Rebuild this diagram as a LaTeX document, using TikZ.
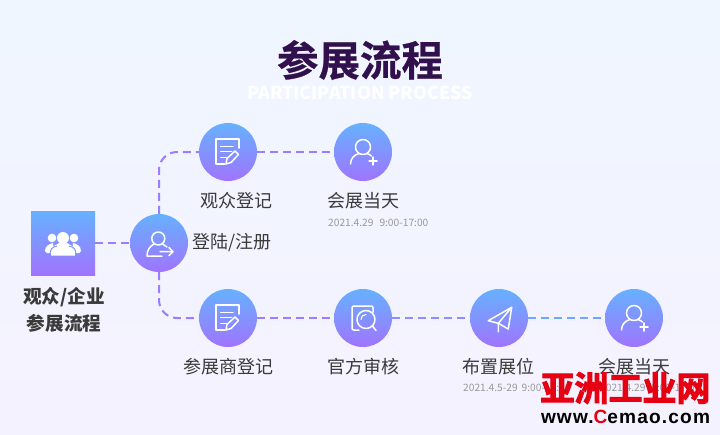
\documentclass[tikz,border=0pt]{standalone}
\usepackage{fontspec}
\usepackage{graphicx}
\setmainfont{Noto Sans CJK SC}
\newfontfamily\wmfont[FakeBold=3]{Noto Sans CJK SC Bold}
\newfontfamily\titlefont[FakeBold=0.6]{Noto Sans CJK SC Bold}
\newfontfamily\latinbold{Liberation Sans Bold}
\definecolor{topblue}{HTML}{66B1FF}
\definecolor{botpurple}{HTML}{A074FF}
\definecolor{lineA}{HTML}{9C7CFF}
\definecolor{lineB}{HTML}{8A8EFF}
\definecolor{lineC}{HTML}{70A6FF}
\definecolor{titlecol}{HTML}{32104E}
\definecolor{txt}{HTML}{3A3A3A}
\definecolor{datecol}{HTML}{999999}
\definecolor{wmred}{HTML}{E60012}
\tikzset{
  x=1pt,y=-1pt,
  stepnode/.style={circle,minimum size=58pt,inner sep=0pt,top color=topblue,bottom color=botpurple},
  squarenode/.style={rectangle,minimum size=64pt,inner sep=0pt,top color=topblue,bottom color=botpurple},
  conn/.style={line width=2pt,dash pattern=on 8pt off 5pt},
  lab/.style={font=\fontsize{18pt}{20pt}\selectfont,text=txt,inner sep=0pt},
  labb/.style={font=\bfseries\fontsize{18.6pt}{20pt}\selectfont,text=txt,inner sep=0pt},
  datel/.style={font=\fontsize{10.2pt}{12pt}\selectfont,text=datecol,inner sep=0pt,anchor=west},
  ico/.style={draw=white,line width=1.5pt,line cap=round,line join=round},
  docicon/.pic={
    \draw[ico] (-3,12) -- (-12,12) -- (-12,-13) -- (11,-13) -- (11,-4);
    \draw[ico] (-7.3,-5.3) -- (5,-5.3) (-7.3,-0.3) -- (3.7,-0.3) (-7.3,5.3) -- (-1.3,5.3);
    \draw[ico] (-2,12) -- (-1,6.5) -- (7,-1) -- (10.5,2.5) -- (3,10.5) -- cycle;
  },
  plusicon/.pic={
    \draw[ico] (0,-5) circle[radius=7.5];
    \draw[ico] (-12.5,12) .. controls (-12.5,6) and (-8,2.5) .. (-4,1.5);
    \draw[ico] (4,1.5) .. controls (6,2.2) and (7.5,3) .. (8.5,4);
    \draw[ico] (6,9) -- (14,9) (10,5) -- (10,13);
  },
  arrowicon/.pic={
    \draw[ico] (-0.7,-4.5) circle[radius=6.5];
    \draw[ico] (3,13) -- (-12,13) .. controls (-12,7) and (-9,3) .. (-5,1);
    \draw[ico] (3.5,1) -- (8,4);
    \draw[ico] (1,8.7) -- (14,8.7) (10,4.5) -- (14,8.7) -- (10,12.5);
  },
  groupicon/.pic={
    \fill[white] (0,-5) circle[radius=6];
    \fill[white] (-11,-5) circle[radius=4.3];
    \fill[white] (11,-5) circle[radius=4.3];
    \fill[white] (-18,8) .. controls (-18,3) and (-14,1) .. (-10,0) -- (-9,10) -- (-16,10) -- cycle;
    \fill[white] (18,8) .. controls (18,3) and (14,1) .. (10,0) -- (9,10) -- (16,10) -- cycle;
    \fill[white] (-12,12.5) -- (-12,7) .. controls (-12,3) and (-6,2) .. (-4,0) -- (4,0) .. controls (6,2) and (12,3) .. (12,7) -- (12,12.5) -- cycle;
    \draw[line width=1pt,draw=topblue!55!botpurple] (-6,3) .. controls (-11,4) and (-13,6) .. (-13,12);
    \draw[line width=1pt,draw=topblue!55!botpurple] (6,3) .. controls (11,4) and (13,6) .. (13,12);
  },
  searchicon/.pic={
    \draw[ico] (-4,12) -- (-9,12) .. controls (-10.5,12) and (-11,11.5) .. (-11,10) -- (-11,-10) .. controls (-11,-11.5) and (-10.5,-12) .. (-9,-12) -- (8,-12) .. controls (9.5,-12) and (10,-11.5) .. (10,-10) -- (10,-6);
    \draw[ico] (3,1.5) circle[radius=9];
    \draw[ico,line width=1.1pt] (-2,1.5) .. controls (-2,-1.5) and (0,-3.5) .. (3,-3.5);
    \draw[ico] (9.5,8) -- (13,12.5);
  },
  planeicon/.pic={
    \draw[ico] (12.7,-10.7) -- (-10.7,2.7) -- (-0.7,5.3) -- (9.3,11) -- cycle;
    \draw[ico] (12.7,-10.7) -- (-0.7,5.3) -- (-0.7,13.7);
  }
}
\begin{document}
\begin{tikzpicture}
\path[use as bounding box] (0,0) rectangle (720,434);
\fill[top color={rgb,255:red,239;green,246;blue,255},bottom color={rgb,255:red,245;green,242;blue,255}] (0,0) rectangle (720,434);

\node[font=\titlefont\fontsize{41.5pt}{46pt}\selectfont,text=titlecol,inner sep=0pt] (title) at (360,60) {参展流程};
\node[font=\bfseries\fontsize{17.8pt}{22pt}\selectfont,text=white,inner sep=0pt] (subtitle) at (360,93) {PARTICIPATION PROCESS};

\node[squarenode] (start) at (63,243) {};
\node[stepnode] (login) at (159,243) {};
\node[stepnode] (vis) at (228,152) {};
\node[stepnode] (visday) at (363,152) {};
\node[stepnode] (exh) at (228,318) {};
\node[stepnode] (audit) at (363,318) {};
\node[stepnode] (booth) at (499,318) {};
\node[stepnode] (exhday) at (634,318) {};

\draw[conn,draw=lineA] (start.east) -- (login.west);
\draw[conn,draw=lineA,rounded corners=18pt] (login.north) |- (vis.west);
\draw[conn,draw=lineA,rounded corners=18pt] (login.south) |- (exh.west);
\draw[conn,draw=lineA] (vis.east) -- (visday.west);
\draw[conn,draw=lineA] (exh.east) -- (audit.west);
\draw[conn,draw=lineB] (audit.east) -- (booth.west);
\draw[conn,draw=lineC] (booth.east) -- (exhday.west);

\pic at (start) {groupicon};
\pic at (login) {arrowicon};
\pic at (vis) {docicon};
\pic at (visday) {plusicon};
\pic at (exh) {docicon};
\pic at (audit) {searchicon};
\pic at (booth) {planeicon};
\pic at (exhday) {plusicon};

\node[labb] (l1) at (64,297.5) {观众/企业};
\node[labb] (l2) at (64,323.5) {参展流程};
\node[lab] (l3) at (232,243) {登陆/注册};
\node[lab] (l4) at (236,201) {观众登记};
\node[lab] (l5) at (363,201) {会展当天};
\node[datel] (d1) at (328,222.5) {2021.4.29\hspace{6pt}9:00-17:00};
\node[lab] (l6) at (228,366.5) {参展商登记};
\node[lab] (l7) at (363,366.5) {官方审核};
\node[lab] (l8) at (498,366.5) {布置展位};
\node[lab] (l9) at (634,367) {会展当天};
\node[datel] (d2) at (463,387.5) {2021.4.5-29\hspace{4pt}9:00-17:00};
\node[datel] (d3) at (600,387.5) {2021.4.29\hspace{6pt}9:00-17:00};

\node[inner sep=0pt,text=wmred] (wm1) at (625.5,388) {\wmfont\fontsize{34pt}{36pt}\selectfont 亚洲工业网};
\node[inner sep=0pt] (wm2) at (625.5,416.5) {\resizebox{169pt}{!}{\latinbold\fontsize{16pt}{18pt}\selectfont\addfontfeature{LetterSpace=6}www.\textcolor{wmred}{C}emao.com}};
\end{tikzpicture}
\end{document}
